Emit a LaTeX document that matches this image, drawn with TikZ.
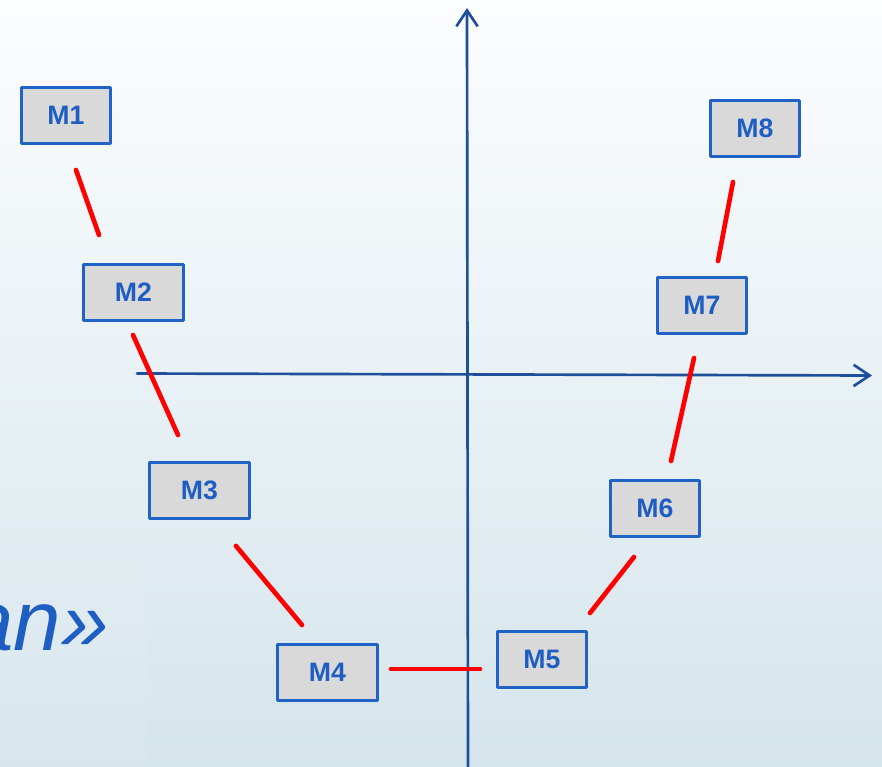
\documentclass[tikz,border=0pt]{standalone}
\usepackage{fontspec}
\setmainfont{Liberation Sans}
\usetikzlibrary{arrows.meta}
\definecolor{axisblue}{HTML}{1F4E9A}
\definecolor{boxblue}{HTML}{1F63C6}
\definecolor{textblue}{HTML}{1E5EC2}
\definecolor{boxgray}{HTML}{D9D9D9}
\definecolor{linkred}{HTML}{FF0000}
\definecolor{bgtop}{HTML}{FCFDFE}
\definecolor{bgbottom}{HTML}{D5E5EC}
\tikzset{
  every picture/.style={
    line join=round,
    line cap=round,
    >={Straight Barb[length=12pt,width=16pt]},  % open chevron on both axes
  },
  mbox/.style={draw=boxblue, fill=boxgray, line width=2.3pt,
    minimum width=66.75pt, minimum height=42pt, inner sep=0pt,
    text=textblue, font=\fontsize{20}{20}\selectfont\bfseries},
  mwide/.style={mbox, minimum width=75pt},
  link/.style={linkred, line width=3.5pt},
  axis/.style={->, axisblue, line width=2pt},
}

\begin{document}
\begin{tikzpicture}[x=0.75pt,y=-0.75pt]
\useasboundingbox (0,0) rectangle (882,767);
\shade[top color=bgtop, bottom color=bgbottom] (0,0) rectangle (882,767);
\fill[white, opacity=0.07] (0,562) rectangle (146,767);
\node[anchor=base east, text=textblue, inner sep=0pt,
  font=\fontsize{64}{64}\selectfont\itshape] (tag) at (109,650) {an»};
% axes
\coordinate (xl) at (137,373.5);
\coordinate (xr) at (872,375.5);
\coordinate (yb) at (468,770);
\coordinate (yt) at (467,8);
\draw[axis] (xl) -- (xr);
\draw[axis] (yb) -- (yt);
% boxes
\node[mbox] (m1) at (66,115.5) {M1};
\node[mwide] (m2) at (133.5,292.5) {M2};
\node[mwide] (m3) at (199.5,490.5) {M3};
\node[mwide] (m4) at (327.5,672.5) {M4};
\node[mbox] (m5) at (542,659.5) {M5};
\node[mbox] (m6) at (655,508.5) {M6};
\node[mbox] (m7) at (702,305.5) {M7};
\node[mbox] (m8) at (755,128.5) {M8};
% red links, they stop short of the boxes
\coordinate (a12) at (76,170);  \coordinate (b12) at (99,235);
\coordinate (a23) at (133,335); \coordinate (b23) at (178,435);
\coordinate (a34) at (236,546); \coordinate (b34) at (302,625);
\coordinate (a45) at (391,669); \coordinate (b45) at (480,669);
\coordinate (a56) at (590,613); \coordinate (b56) at (634,557);
\coordinate (a67) at (671,461); \coordinate (b67) at (694,358);
\coordinate (a78) at (718,261); \coordinate (b78) at (733,182);
\foreach \p in {12,23,34,45,56,67,78}
  \draw[link] (a\p) -- (b\p);
\end{tikzpicture}
\end{document}
